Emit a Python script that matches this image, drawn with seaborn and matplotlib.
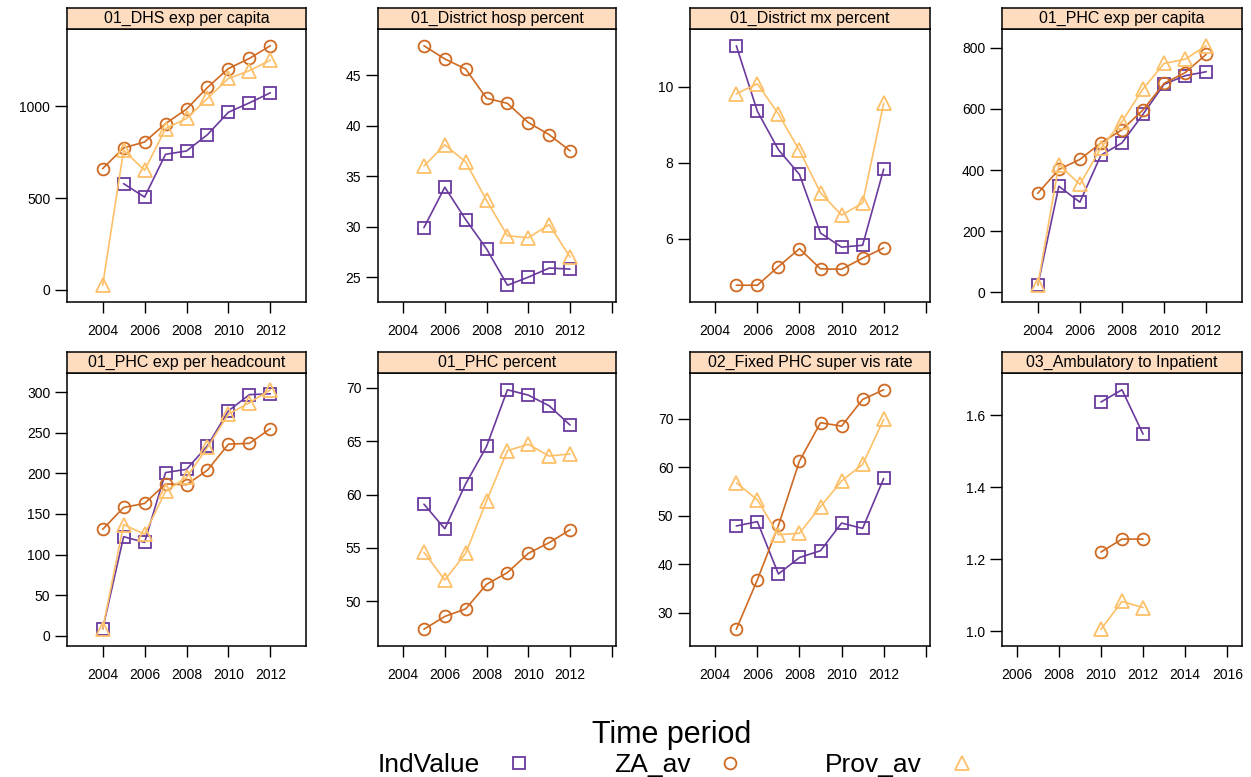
import numpy as np
import pandas as pd
import matplotlib
matplotlib.use("Agg")
import matplotlib.pyplot as plt
from matplotlib.ticker import MultipleLocator, FormatStrFormatter
from matplotlib.lines import Line2D
import seaborn as sns

sns.set_style("ticks")
plt.rcParams['font.family'] = ['Liberation Sans', 'DejaVu Sans']
plt.rcParams['text.color'] = 'black'

nan = np.nan
years = [2004, 2005, 2006, 2007, 2008, 2009, 2010, 2011, 2012]

panel_names = ["01_DHS exp per capita", "01_District hosp percent",
               "01_District mx percent", "01_PHC exp per capita",
               "01_PHC exp per headcount", "01_PHC percent",
               "02_Fixed PHC super vis rate", "03_Ambulatory to Inpatient"]

# values, one list per series per panel (NaN = no data)
dhs_ind = [nan, 578, 505, 738, 756, 845, 967, 1018, 1073]
dhs_za = [660, 773, 805, 905, 984, 1102, 1205, 1260, 1329]
dhs_prov = [25, 760, 651, 878, 933, 1042, 1151, 1193, 1251]

hosp_ind = [nan, 29.9, 33.9, 30.7, 27.8, 24.2, 25.0, 25.9, 25.8]
hosp_za = [nan, 47.9, 46.6, 45.6, 42.7, 42.2, 40.3, 39.1, 37.5]
hosp_prov = [nan, 36.0, 38.1, 36.4, 32.6, 29.1, 28.9, 30.2, 27.0]

mx_ind = [nan, 11.07, 9.35, 8.34, 7.69, 6.15, 5.78, 5.83, 7.83]
mx_za = [nan, 4.78, 4.78, 5.27, 5.74, 5.21, 5.20, 5.49, 5.76]
mx_prov = [nan, 9.81, 10.07, 9.28, 8.32, 7.21, 6.62, 6.94, 9.56]

phc_cap_ind = [23, 347, 295, 449, 489, 583, 681, 709, 722]
phc_cap_za = [324, 402, 435, 489, 532, 597, 684, 719, 779]
phc_cap_prov = [23, 418, 353, 473, 559, 666, 749, 763, 807]

phc_head_ind = [8, 122, 115, 201, 205, 234, 277, 297, 298]
phc_head_za = [131, 158, 163, 187, 186, 204, 236, 237, 255]
phc_head_prov = [8, 137, 125, 178, 195, 232, 273, 287, 303]

phc_pct_ind = [nan, 59.1, 56.8, 61.0, 64.5, 69.8, 69.3, 68.3, 66.5]
phc_pct_za = [nan, 47.4, 48.6, 49.3, 51.6, 52.7, 54.5, 55.5, 56.7]
phc_pct_prov = [nan, 54.6, 52.0, 54.5, 59.4, 64.1, 64.7, 63.6, 63.8]

supvis_ind = [nan, 47.9, 48.8, 38.0, 41.4, 42.8, 48.5, 47.4, 57.7]
supvis_za = [nan, 26.6, 36.8, 48.0, 61.3, 69.2, 68.5, 74.0, 76.0]
supvis_prov = [nan, 56.8, 53.3, 46.1, 46.4, 51.9, 57.2, 60.6, 69.9]

amb_ind = [nan, nan, nan, nan, nan, nan, 1.636, 1.670, 1.547]
amb_za = [nan, nan, nan, nan, nan, nan, 1.220, 1.256, 1.256]
amb_prov = [nan, nan, nan, nan, nan, nan, 1.006, 1.083, 1.066]

series_names = ["IndValue", "ZA_av", "Prov_av"]
panel_values = [
    (dhs_ind, dhs_za, dhs_prov),
    (hosp_ind, hosp_za, hosp_prov),
    (mx_ind, mx_za, mx_prov),
    (phc_cap_ind, phc_cap_za, phc_cap_prov),
    (phc_head_ind, phc_head_za, phc_head_prov),
    (phc_pct_ind, phc_pct_za, phc_pct_prov),
    (supvis_ind, supvis_za, supvis_prov),
    (amb_ind, amb_za, amb_prov),
]
y_steps = [500, 5, 2, 200, 50, 5, 10, 0.2]
no_2014_label = [False, True, True, False, False, True, True, False]

rows = []
for name, vals in zip(panel_names, panel_values):
    for s, v in zip(series_names, vals):
        for yr, val in zip(years, v):
            rows.append((name, s, yr, val))
df = pd.DataFrame(rows, columns=["panel", "series", "year", "value"]).dropna()

colors = ["#6A3A9E", "#CF6A22", "#FDC068"]
markers = ["s", "o", "^"]
msizes = [8.5, 8.5, 10]

W, H = 1251, 777
fig = plt.figure(figsize=(W / 100, H / 100), dpi=100)
cols_px = [(67, 306), (378, 616), (690, 930), (1002, 1242)]
rows_px = [(29, 302), (373, 646)]
strip_h = 21

for i, name in enumerate(panel_names):
    r, c = divmod(i, 4)
    x0, x1 = cols_px[c]
    top, bot = rows_px[r]
    ax = fig.add_axes([x0 / W, 1 - bot / H, (x1 - x0) / W, (bot - top) / H])
    sax = fig.add_axes([x0 / W, 1 - top / H, (x1 - x0) / W, strip_h / H])

    sub = df[df.panel == name]
    for s, col, mk, ms in zip(series_names, colors, markers, msizes):
        d = sub[sub.series == s]
        sns.lineplot(data=d, x="year", y="value", ax=ax, color=col, marker=mk,
                     markersize=ms, mfc="none", mec=col, mew=1.3, lw=1.2,
                     errorbar=None)

    # lattice-like limits: sliced x range, 7% padding on y
    mid = (sub.year.min() + sub.year.max()) / 2
    ax.set_xlim(mid - 5.7, mid + 5.7)
    lo, hi = sub.value.min(), sub.value.max()
    pad = (hi - lo) * 0.07
    ax.set_ylim(lo - pad, hi + pad)

    ax.xaxis.set_major_locator(MultipleLocator(2))
    ax.yaxis.set_major_locator(MultipleLocator(y_steps[i]))
    ticks = [t for t in ax.get_xticks() if ax.get_xlim()[0] <= t <= ax.get_xlim()[1]]
    ax.set_xticks(ticks)
    ax.set_xticklabels(["" if (no_2014_label[i] and t == 2014) else str(int(t)) for t in ticks])
    if y_steps[i] < 1:
        ax.yaxis.set_major_formatter(FormatStrFormatter("%.1f"))
    ax.set_xlabel("")
    ax.set_ylabel("")
    ax.tick_params(axis="x", direction="out", length=8, width=1, pad=8,
                   labelsize=10, color="black", labelcolor="black")
    ax.tick_params(axis="y", direction="out", length=9, width=1, pad=3,
                   labelsize=10, color="black", labelcolor="black")
    for sp in ax.spines.values():
        sp.set_color("black")
        sp.set_linewidth(1.1)

    sax.set_facecolor("#FDDCC0")
    sax.set_xticks([])
    sax.set_yticks([])
    for sp in sax.spines.values():
        sp.set_color("black")
        sp.set_linewidth(1.1)
    sax.text(0.5, 0.48, name, ha="center", va="center", fontsize=11.5,
             transform=sax.transAxes)

# key at the bottom
fig.text(672 / W, 1 - 735 / H, "Time period", ha="center", va="center",
         fontsize=22)
handles = [Line2D([], [], ls="none", marker=m, mfc="none", mec=c, ms=ms, mew=1.3)
           for m, c, ms in zip(markers, colors, msizes)]
fig.legend(handles=handles, labels=series_names, loc="center",
           bbox_to_anchor=(676 / W, 1 - 765 / H), ncol=3, markerfirst=False,
           frameon=False, fontsize=19, handlelength=1.0, handletextpad=1.0,
           columnspacing=3.1, borderpad=0.1)

fig.savefig("out.png", dpi=100)
